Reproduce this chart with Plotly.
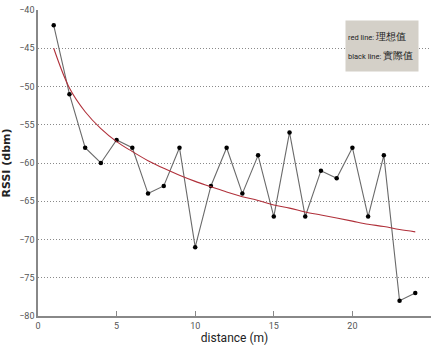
import plotly.graph_objects as go

# measured RSSI at each distance (m)
distance = list(range(1, 25))
rssi_measured = [-42, -51, -58, -60, -57, -58, -64, -63, -58, -71, -63, -58,
                 -64, -59, -67, -56, -67, -61, -62, -58, -67, -59, -78, -77]
# theoretical (path-loss) RSSI at the same distances
rssi_ideal = [-45.0, -50.2, -53.3, -55.5, -57.2, -58.5, -59.7, -60.7, -61.6, -62.4,
              -63.1, -63.8, -64.4, -64.9, -65.5, -65.9, -66.4, -66.8, -67.2, -67.6,
              -68.0, -68.3, -68.7, -69.0]

x_ticks = [0, 5, 10, 15, 20, 25]
y_ticks = [-80, -75, -70, -65, -60, -55, -50, -45, -40]

narrow = "Liberation Sans Narrow, Arial Narrow, Roboto, sans-serif"

fig = go.Figure()
fig.add_trace(go.Scatter(
    x=distance, y=rssi_measured, mode="lines+markers",
    line=dict(color="#6a6a6a", width=1.1),
    marker=dict(color="black", size=4.5),
    showlegend=False,
))
fig.add_trace(go.Scatter(
    x=distance, y=rssi_ideal, mode="lines", line_shape="spline",
    line=dict(color="#b0303a", width=1.1),
    showlegend=False,
))

# grey note box naming the two lines
fig.add_annotation(
    xref="paper", yref="paper", x=0.78, y=0.967, xanchor="left", yanchor="top",
    text="red line: <span style='font-size:10px'>理想值</span><br><br>"
         "black line: <span style='font-size:10px'>實際值</span>",
    showarrow=False, align="left", valign="middle", width=68, height=46,
    font=dict(family=narrow, size=7.5, color="#222"),
    bgcolor="#d4d0c8", borderpad=2,
)

fig.update_layout(
    width=431, height=351,
    margin=dict(l=38, r=0, t=10, b=35),
    paper_bgcolor="white", plot_bgcolor="white",
    xaxis=dict(
        range=[0, 25], tickvals=x_ticks, ticks="inside", ticklen=5,
        tickcolor="#888", showgrid=False, zeroline=False,
        showline=True, linecolor="#888", linewidth=1.5,
        tickfont=dict(family=narrow, size=9, color="#555"),
        title=dict(text="distance (m)", standoff=4,
                   font=dict(family=narrow, size=12, color="#222")),
    ),
    yaxis=dict(
        range=[-80, -40], tickvals=y_ticks, ticks="", showgrid=True,
        gridcolor="#8a8a8a", griddash="1px,2px", gridwidth=1, zeroline=False,
        showline=True, linecolor="#888", linewidth=1.5,
        tickfont=dict(family=narrow, size=9, color="#555"),
        title=dict(text="<b>RSSI (dbm)</b>", standoff=6,
                   font=dict(family="DejaVu Sans, Arial, sans-serif", size=11, color="#222")),
    ),
)

fig.write_html("out.html")
